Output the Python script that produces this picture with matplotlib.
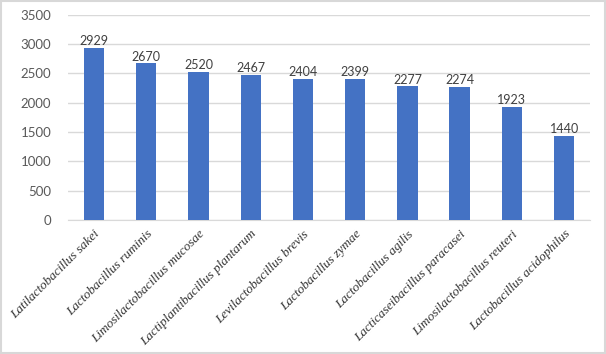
import matplotlib
matplotlib.use("Agg")
import matplotlib.pyplot as plt
from matplotlib.patches import Rectangle
from matplotlib.font_manager import FontProperties

categories = ["Latilactobacillus sakei", "Lactobacillus ruminis", "Limosilactobacillus mucosae",
              "Lactiplantibacillus plantarum", "Levilactobacillus brevis", "Lactobacillus zymae",
              "Lactobacillus agilis", "Lacticaseibacillus paracasei", "Limosilactobacillus reuteri",
              "Lactobacillus acidophilus"]
values = [2929, 2670, 2520, 2467, 2404, 2399, 2277, 2274, 1923, 1440]
yticks = [0, 500, 1000, 1500, 2000, 2500, 3000, 3500]

num_fp = FontProperties(family="Lato", size=9)
lab_fp = FontProperties(family="Liberation Serif", style="italic", size=9.5)

fig = plt.figure(figsize=(6.06, 3.54), dpi=100)
ax = fig.add_axes([0.112, 0.379, 0.862, 0.579])

x = list(range(len(categories)))
ax.bar(x, values, width=0.39, color="#4472C4", zorder=3)
for xi, v in zip(x, values):
    ax.text(xi, v + 15, str(v), ha="center", va="bottom", fontproperties=num_fp,
            color="#404040", zorder=4)

ax.set_xlim(-0.5, len(categories) - 0.5)
ax.set_ylim(0, 3500)
ax.set_yticks(yticks)
ax.set_yticklabels([str(t) for t in yticks], fontproperties=FontProperties(family="Lato", size=9.5),
                   color="#595959")
ax.yaxis.grid(True, color="#D9D9D9", linewidth=1, zorder=0)
ax.set_xticks(x)
ax.set_xticklabels(categories, rotation=45, ha="right", rotation_mode="anchor",
                   fontproperties=lab_fp, color="#333333")
ax.tick_params(axis="both", length=0)
ax.tick_params(axis="x", pad=6)
ax.tick_params(axis="y", pad=12)
for s in ["top", "right", "left"]:
    ax.spines[s].set_visible(False)
ax.spines["bottom"].set_color("#D9D9D9")

fig.patches.append(Rectangle((0.002, 0.003), 0.996, 0.994, transform=fig.transFigure,
                             fill=False, edgecolor="#D8D8D8", linewidth=1.5))

fig.savefig("out.png", dpi=100)
